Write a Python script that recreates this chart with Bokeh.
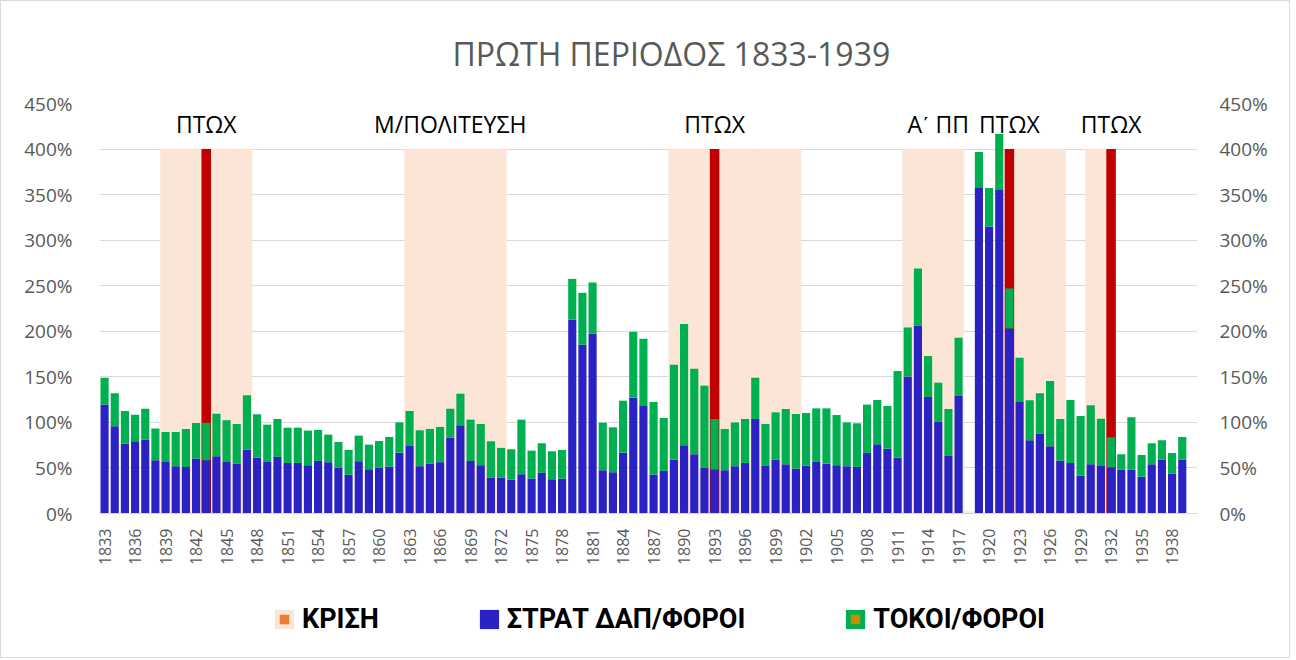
import numpy as np
from bokeh.plotting import figure
from bokeh.layouts import column
from bokeh.models import (Range1d, LinearAxis, FixedTicker, PrintfTickFormatter,
                          Legend, LegendItem, ColumnDataSource)
from bokeh.core.properties import value
from bokeh.embed import file_html
from bokeh.resources import INLINE

# ---------------- data ----------------
YEARS = list(range(1833, 1940))

# ΣΤΡΑΤ ΔΑΠ/ΦΟΡΟΙ (%), 1833..1939 (1918 missing)
MILITARY = [
    119.5, 95.7, 76.7, 79.3, 81.1, 58.4, 56.6, 51.9, 51.1, 60.3,
    58.4, 62.8, 56.6, 54.8, 70.1, 61.4, 56.6, 62.1, 55.5, 55.5,
    53.0, 57.7, 56.3, 50.4, 42.7, 57.4, 48.6, 50.4, 51.5, 66.8,
    74.2, 51.9, 54.8, 56.3, 83.3, 96.8, 57.7, 53.0, 39.5, 39.5,
    37.3, 43.1, 38.4, 44.6, 37.6, 38.4, 213.0, 185.2, 197.6, 47.5,
    45.3, 66.8, 127.1, 118.0, 42.7, 46.8, 59.2, 74.9, 65.0, 50.0,
    48.2, 47.5, 51.9, 55.5, 103.7, 52.2, 59.2, 54.0, 49.3, 52.6,
    56.6, 54.8, 53.0, 51.9, 51.1, 66.5, 76.0, 71.2, 61.4, 150.5,
    206.4, 127.9, 100.5, 63.2, 129.0, None, 358.0, 314.9, 355.0, 203.1,
    122.4, 80.4, 87.7, 73.8, 58.1, 55.5, 41.6, 54.0, 52.2, 50.4,
    48.2, 48.2, 40.2, 54.0, 59.2, 43.8, 59.2,
]

# ΤΟΚΟΙ/ΦΟΡΟΙ (%), 1833..1939 (1918 missing)
INTEREST = [
    29.5, 36.2, 35.8, 29.2, 33.9, 34.8, 32.9, 37.6, 41.7, 39.1,
    41.3, 46.8, 45.7, 43.5, 59.6, 47.5, 40.9, 41.6, 38.7, 38.7,
    38.0, 34.0, 30.3, 28.1, 27.1, 28.1, 27.0, 29.2, 32.5, 33.2,
    38.3, 39.4, 38.0, 38.7, 31.7, 34.7, 45.3, 45.3, 39.8, 32.5,
    33.2, 59.9, 30.6, 32.5, 30.7, 31.4, 44.5, 57.0, 55.9, 52.2,
    49.3, 57.0, 72.3, 73.8, 79.7, 58.0, 104.1, 133.0, 93.9, 90.3,
    55.5, 45.3, 48.1, 48.2, 45.3, 46.1, 51.8, 60.7, 59.9, 57.7,
    58.8, 60.6, 55.1, 48.1, 47.9, 53.0, 48.6, 46.8, 94.9, 53.7,
    62.5, 44.9, 43.1, 51.5, 63.9, None, 38.7, 42.4, 61.4, 43.9,
    48.6, 43.8, 44.2, 71.6, 45.6, 69.1, 65.4, 64.7, 51.9, 33.3,
    16.8, 57.4, 24.1, 23.1, 21.2, 22.7, 24.8,
]

# ΚΡΙΣΗ (crisis band)
CRISIS_YEARS = [1839, 1840, 1841, 1842, 1843, 1844, 1845, 1846, 1847,
                1863, 1864, 1865, 1866, 1867, 1868, 1869, 1870, 1871, 1872,
                1889, 1890, 1891, 1892, 1893, 1894, 1895, 1896, 1897, 1898, 1899, 1900, 1901,
                1912, 1913, 1914, 1915, 1916, 1917, 1918,
                1923, 1924, 1925, 1926, 1927,
                1930, 1931]
CRISIS_LEVEL = [400, 400, 400, 400, 400, 400, 400, 400, 400,
                400, 400, 400, 400, 400, 400, 400, 400, 400, 400,
                400, 400, 400, 400, 400, 400, 400, 400, 400, 400, 400, 400, 400,
                400, 400, 400, 400, 400, 400, 2,
                400, 400, 400, 400, 400,
                400, 400]

# bankruptcy years (dark red markers)
DEFAULT_YEARS = [1843, 1893, 1922, 1932]
DEFAULT_LEVEL = [400, 400, 400, 400]

EVENT_LABELS = ["ΠΤΩΧ", "Μ/ΠΟΛΙΤΕΥΣΗ", "ΠΤΩΧ", "Α\u0374 ΠΠ", "ΠΤΩΧ", "ΠΤΩΧ"]
EVENT_YEARS = [1843, 1867, 1893, 1915, 1922, 1932]

X_TICKS = list(range(1833, 1939, 3))
Y_TICKS = [0, 50, 100, 150, 200, 250, 300, 350, 400, 450]

TITLE = "ΠΡΩΤΗ ΠΕΡΙΟΔΟΣ 1833-1939"

# ---------------- styling ----------------
BLUE = "#2B22C4"
GREEN = "#00B050"
PEACH = "#FBE5D6"
DARKRED = "#C00000"
GRID = "#D9D9D9"
TXT = "#595959"
FONT = "Open Sans"
EVENT_Y = 427

mil = np.array([np.nan if v is None else v for v in MILITARY], dtype=float)
intr = np.array([np.nan if v is None else v for v in INTEREST], dtype=float)
src = ColumnDataSource(dict(x=YEARS, mil=mil, top2=mil + intr))
crisis_src = ColumnDataSource(dict(x=CRISIS_YEARS, top=CRISIS_LEVEL))
default_src = ColumnDataSource(dict(x=DEFAULT_YEARS, top=DEFAULT_LEVEL))

# ---------------- main chart ----------------
p = figure(width=1288, height=590, output_backend="svg", toolbar_location=None,
           x_range=Range1d(1832.5, 1940.5), y_range=Range1d(0, 450),
           min_border_left=98, min_border_right=92, min_border_top=102, min_border_bottom=78,
           background_fill_color="white", border_fill_color="white")
p.outline_line_color = None

p.title.text = TITLE
p.title.align = "left"
p.title.offset = 353
p.title.standoff = 57
p.title.text_font = FONT
p.title.text_font_size = "32px"
p.title.text_font_style = "normal"
p.title.text_color = TXT

p.vbar(x="x", top="top", width=1.0, source=crisis_src,
       fill_color=PEACH, line_color=PEACH, line_width=0.6)
p.vbar(x="x", top="top", width=0.94, source=default_src, fill_color=DARKRED, line_color=None)
p.vbar(x="x", bottom=0, top="mil", width=0.8, source=src, fill_color=BLUE, line_color=None)
p.vbar(x="x", bottom="mil", top="top2", width=0.8, source=src, fill_color=GREEN, line_color=None)

ev_src = ColumnDataSource(dict(x=EVENT_YEARS, y=[EVENT_Y] * len(EVENT_YEARS), t=EVENT_LABELS))
p.text(x="x", y="y", text="t", source=ev_src, text_align="center", text_baseline="alphabetic",
       text_font=value(FONT), text_font_size="23px", text_color="black")

p.xaxis.ticker = FixedTicker(ticks=X_TICKS)
p.xaxis.major_label_orientation = np.pi / 2
p.xaxis.major_label_text_font = FONT
p.xaxis.major_label_text_font_size = "16px"
p.xaxis.major_label_text_color = TXT
p.xaxis.major_tick_line_color = None
p.xaxis.minor_tick_line_color = None
p.xaxis.major_tick_out = 0
p.xaxis.axis_line_color = GRID
p.xaxis.major_label_standoff = 15

right = LinearAxis()
p.add_layout(right, "right")
for ax in p.yaxis:
    ax.ticker = FixedTicker(ticks=Y_TICKS)
    ax.formatter = PrintfTickFormatter(format="%d%%")
    ax.major_label_text_font = FONT
    ax.major_label_text_font_size = "19px"
    ax.major_label_text_color = TXT
    ax.major_tick_line_color = None
    ax.minor_tick_line_color = None
    ax.major_tick_out = 0
    ax.axis_line_color = None
p.yaxis[0].major_label_standoff = 27
right.major_label_standoff = 22

p.xgrid.visible = False
p.ygrid.ticker = FixedTicker(ticks=Y_TICKS)
p.ygrid.grid_line_color = GRID
p.ygrid.grid_line_width = 1

# ---------------- legend strip ----------------
# same x range as the chart; y window sits just above the data so the proxies stay out of view
lp = figure(width=1288, height=66, output_backend="svg", toolbar_location=None,
            x_range=p.x_range, y_range=Range1d(500, 600), min_border=0,
            x_axis_location=None, y_axis_location=None,
            background_fill_color="white", border_fill_color="white")
lp.outline_line_color = None
lp.grid.visible = False

l_crisis = lp.vbar(x="x", top="top", width=1.0, source=crisis_src, fill_color=PEACH, line_color=None)
l_crisis_m = lp.scatter(x="x", y="top", source=crisis_src, size=0, marker="square",
                        fill_color="#ED7D31", line_color=None)
l_blue = lp.vbar(x="x", top="mil", width=0.8, source=src, fill_color=BLUE, line_color=None)
l_green = lp.vbar(x="x", top="top2", width=0.8, source=src, fill_color=GREEN, line_color=None)
l_green_m = lp.scatter(x="x", y="top2", source=src, size=0, marker="square",
                       fill_color="#BF9000", line_color=None)

legend = Legend(items=[
    LegendItem(label="ΚΡΙΣΗ", renderers=[l_crisis, l_crisis_m]),
    LegendItem(label="ΣΤΡΑΤ ΔΑΠ/ΦΟΡΟΙ", renderers=[l_blue]),
    LegendItem(label="ΤΟΚΟΙ/ΦΟΡΟΙ", renderers=[l_green, l_green_m]),
], orientation="horizontal", location=(173, 22), margin=0,
    spacing=98, label_standoff=6, glyph_width=24, glyph_height=24, padding=4,
    label_text_font="Roboto", label_text_font_style="bold", label_text_font_size="27px",
    label_text_color="black", border_line_color=None, background_fill_alpha=0)
lp.add_layout(legend, "center")

layout = column(p, lp, spacing=0, styles={"border": "1px solid #D9D9D9"})

open("out.html", "w").write(file_html(layout, INLINE))
